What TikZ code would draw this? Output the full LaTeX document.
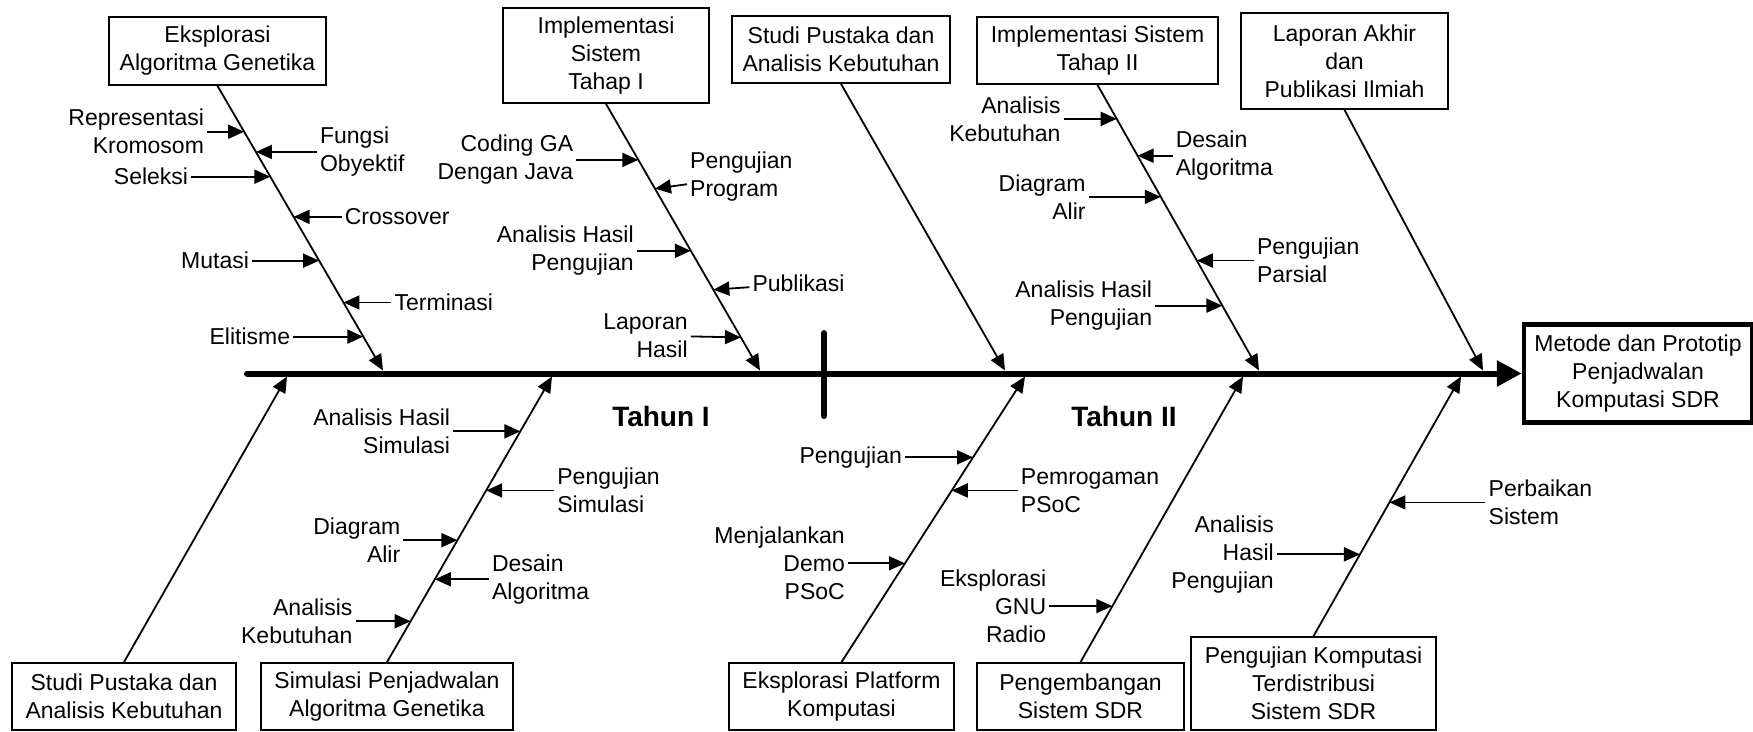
\documentclass[tikz,border=0pt]{standalone}
\usepackage{fontspec}
\setmainfont{Liberation Sans}
\usetikzlibrary{arrows.meta}
\usetikzlibrary{positioning, calc}
\tikzstyle{box}    = [draw=black, line width=1.8pt, inner sep=2pt, align=center]
\tikzstyle{lbl}    = [inner sep=3pt]
\tikzstyle{arrow}  = [line width=1.8pt, -{Triangle[length=16pt,width=14pt]}]
\tikzstyle{spine}  = [line width=6pt, line cap=round, -{Triangle[length=25pt,width=25pt]}]
\tikzstyle{tahun}  = [font=\fontsize{28}{34}\selectfont\bfseries]

\begin{document}
\begin{tikzpicture}[x=1pt, y=-1pt, font=\fontsize{23}{28}\selectfont]
      \useasboundingbox (0,0) rectangle (1753,731);
      % Head
      \node[box, line width=4.5pt, minimum width=228pt, minimum height=98pt]
        (hasil) at (1638,373.5) {Metode dan Prototip\\Penjadwalan\\Komputasi SDR};
      % Spine
      \coordinate (ekor) at (247,373.5);
      \draw[spine] (ekor) -- (hasil.west);
      \draw[line width=6pt, line cap=round] (824,333) -- (824,416);
      \node[tahun] (th1) at (661,416) {Tahun I};
      \node[tahun] (th2) at (1124,416) {Tahun II};

      % Top boxes
      \node[box, minimum width=217pt, minimum height=68pt] (tga) at (217.5,51) {Eksplorasi\\Algoritma Genetika};
      \node[box, minimum width=206pt, minimum height=95pt] (timp1) at (606,55.5) {Implementasi\\Sistem\\Tahap I};
      \node[box, minimum width=218pt, minimum height=67pt] (tstudi) at (841,49.5) {Studi Pustaka dan\\Analisis Kebutuhan};
      \node[box, minimum width=241pt, minimum height=67pt] (timp2) at (1097.5,50.5) {Implementasi Sistem\\Tahap II};
      \node[box, minimum width=207pt, minimum height=96pt] (tlap) at (1344.5,61) {Laporan Akhir\\dan\\Publikasi Ilmiah};
      % Bottom boxes
      \node[box, minimum width=224pt, minimum height=67pt] (bstudi) at (124,696.5) {Studi Pustaka dan\\Analisis Kebutuhan};
      \node[box, minimum width=252pt, minimum height=67pt] (bsim) at (387,696.5) {Simulasi Penjadwalan\\Algoritma Genetika};
      \node[box, minimum width=225pt, minimum height=67pt] (bplat) at (841.5,696.5) {Eksplorasi Platform\\Komputasi};
      \node[box, minimum width=207pt, minimum height=67pt] (bsdr) at (1080.5,696.5) {Pengembangan\\Sistem SDR};
      \node[box, minimum width=245pt, minimum height=93pt] (buji) at (1313.5,683.5) {Pengujian Komputasi\\Terdistribusi\\Sistem SDR};

      % Bones
      \coordinate (t1) at (383,370.5);
      \coordinate (t2) at (760,370.5);
      \coordinate (t3) at (1005,370.5);
      \coordinate (t4) at (1259,370.5);
      \coordinate (t5) at (1483,370.5);
      \coordinate (u1) at (287,376.5);
      \coordinate (u2) at (552,376.5);
      \coordinate (u3) at (1025,376.5);
      \coordinate (u4) at (1243,376.5);
      \coordinate (u5) at (1461,376.5);
      \draw[arrow] (tga.south) -- (t1);
      \draw[arrow] (timp1.south) -- (t2);
      \draw[arrow] (tstudi.south) -- (t3);
      \draw[arrow] (timp2.south) -- (t4);
      \draw[arrow] (tlap.south) -- (t5);
      \draw[arrow] (bstudi.north) -- (u1);
      \draw[arrow] (bsim.north) -- (u2);
      \draw[arrow] (bplat.north) -- (u3);
      \draw[arrow] (bsdr.north) -- (u4);
      \draw[arrow] (buji.north) -- (u5);

      % Eksplorasi Algoritma Genetika
      \coordinate (ga1) at ($(tga.south)!0.161!(t1)$);
      \coordinate (ga2) at ($(tga.south)!0.232!(t1)$);
      \coordinate (ga3) at ($(tga.south)!0.319!(t1)$);
      \coordinate (ga4) at ($(tga.south)!0.460!(t1)$);
      \coordinate (ga5) at ($(tga.south)!0.614!(t1)$);
      \coordinate (ga6) at ($(tga.south)!0.761!(t1)$);
      \coordinate (ga7) at ($(tga.south)!0.881!(t1)$);
      \node[lbl, align=right, left=37pt of ga1] (krom) {Representasi\\Kromosom};
      \node[lbl, align=left, right=61pt of ga2] (fungsi) {Fungsi\\Obyektif};
      \node[lbl, left=79pt of ga3] (seleksi) {Seleksi};
      \node[lbl, right=48pt of ga4] (cross) {Crossover};
      \node[lbl, left=67pt of ga5] (mutasi) {Mutasi};
      \node[lbl, right=48pt of ga6] (termin) {Terminasi};
      \node[lbl, left=70pt of ga7] (elit) {Elitisme};
      \draw[arrow] (krom) -- (ga1);
      \draw[arrow] (fungsi) -- (ga2);
      \draw[arrow] (seleksi) -- (ga3);
      \draw[arrow] (cross) -- (ga4);
      \draw[arrow] (mutasi) -- (ga5);
      \draw[arrow] (termin) -- (ga6);
      \draw[arrow] (elit) -- (ga7);

      % Implementasi Tahap I
      \coordinate (im1) at ($(timp1.south)!0.210!(t2)$);
      \coordinate (im2) at ($(timp1.south)!0.318!(t2)$);
      \coordinate (im3) at ($(timp1.south)!0.551!(t2)$);
      \coordinate (im4) at ($(timp1.south)!0.697!(t2)$);
      \coordinate (im5) at ($(timp1.south)!0.876!(t2)$);
      \node[lbl, align=right, left=62pt of im1] (coding) {Coding GA\\Dengan Java};
      \node[lbl, align=left, right=32pt of im2, yshift=12pt] (ujiprog) {Pengujian\\Program};
      \node[lbl, align=right, left=54pt of im3] (anhas1) {Analisis Hasil\\Pengujian};
      \node[lbl, right=36pt of im4, yshift=6pt] (publik) {Publikasi};
      \node[lbl, align=right, left=50pt of im5, yshift=2pt] (laphas) {Laporan\\Hasil};
      \draw[arrow] (coding) -- (im1);
      \draw[arrow] (ujiprog) -- (im2);
      \draw[arrow] (anhas1) -- (im3);
      \draw[arrow] (publik) -- (im4);
      \draw[arrow] (laphas) -- (im5);

      % Implementasi Tahap II
      \coordinate (ii1) at ($(timp2.south)!0.119!(t4)$);
      \coordinate (ii2) at ($(timp2.south)!0.248!(t4)$);
      \coordinate (ii3) at ($(timp2.south)!0.392!(t4)$);
      \coordinate (ii4) at ($(timp2.south)!0.615!(t4)$);
      \coordinate (ii5) at ($(timp2.south)!0.773!(t4)$);
      \node[lbl, align=right, left=53pt of ii1] (butuh2) {Analisis\\Kebutuhan};
      \node[lbl, align=left, right=35pt of ii2] (desain2) {Desain\\Algoritma};
      \node[lbl, align=right, left=72pt of ii3] (alir2) {Diagram\\Alir};
      \node[lbl, align=left, right=57pt of ii4] (parsial) {Pengujian\\Parsial};
      \node[lbl, align=right, left=67pt of ii5] (anhas2) {Analisis Hasil\\Pengujian};
      \draw[arrow] (butuh2) -- (ii1);
      \draw[arrow] (desain2) -- (ii2);
      \draw[arrow] (alir2) -- (ii3);
      \draw[arrow] (parsial) -- (ii4);
      \draw[arrow] (anhas2) -- (ii5);

      % Simulasi Penjadwalan
      \coordinate (si1) at ($(bsim.north)!0.808!(u2)$);
      \coordinate (si2) at ($(bsim.north)!0.601!(u2)$);
      \coordinate (si3) at ($(bsim.north)!0.427!(u2)$);
      \coordinate (si4) at ($(bsim.north)!0.290!(u2)$);
      \coordinate (si5) at ($(bsim.north)!0.143!(u2)$);
      \node[lbl, align=right, left=67pt of si1] (anhsim) {Analisis Hasil\\Simulasi};
      \node[lbl, align=left, right=68pt of si2] (ujisim) {Pengujian\\Simulasi};
      \node[lbl, align=right, left=54pt of si3] (alir1) {Diagram\\Alir};
      \node[lbl, align=left, right=54pt of si4] (desain1) {Desain\\Algoritma};
      \node[lbl, align=right, left=55pt of si5] (butuh1) {Analisis\\Kebutuhan};
      \draw[arrow] (anhsim) -- (si1);
      \draw[arrow] (ujisim) -- (si2);
      \draw[arrow] (alir1) -- (si3);
      \draw[arrow] (desain1) -- (si4);
      \draw[arrow] (butuh1) -- (si5);

      % Eksplorasi Platform
      \coordinate (pl1) at ($(bplat.north)!0.717!(u3)$);
      \coordinate (pl2) at ($(bplat.north)!0.601!(u3)$);
      \coordinate (pl3) at ($(bplat.north)!0.346!(u3)$);
      \node[lbl, left=68pt of pl1] (ujipl) {Pengujian};
      \node[lbl, align=left, right=66pt of pl2] (psoc) {Pemrogaman\\PSoC};
      \node[lbl, align=right, left=57pt of pl3] (demo) {Menjalankan\\Demo\\PSoC};
      \draw[arrow] (ujipl) -- (pl1);
      \draw[arrow] (psoc) -- (pl2);
      \draw[arrow] (demo) -- (pl3);

      % Pengembangan SDR
      \coordinate (sd1) at ($(bsdr.north)!0.196!(u4)$);
      \node[lbl, align=right, left=63pt of sd1] (gnu) {Eksplorasi\\GNU\\Radio};
      \draw[arrow] (gnu) -- (sd1);

      % Pengujian Komputasi
      \coordinate (uj1) at ($(buji.north)!0.515!(u5)$);
      \coordinate (uj2) at ($(buji.north)!0.315!(u5)$);
      \node[lbl, align=left, right=96pt of uj1] (perbaik) {Perbaikan\\Sistem};
      \node[lbl, align=right, left=83pt of uj2] (anhas3) {Analisis\\Hasil\\Pengujian};
      \draw[arrow] (perbaik) -- (uj1);
      \draw[arrow] (anhas3) -- (uj2);
\end{tikzpicture}
\end{document}
